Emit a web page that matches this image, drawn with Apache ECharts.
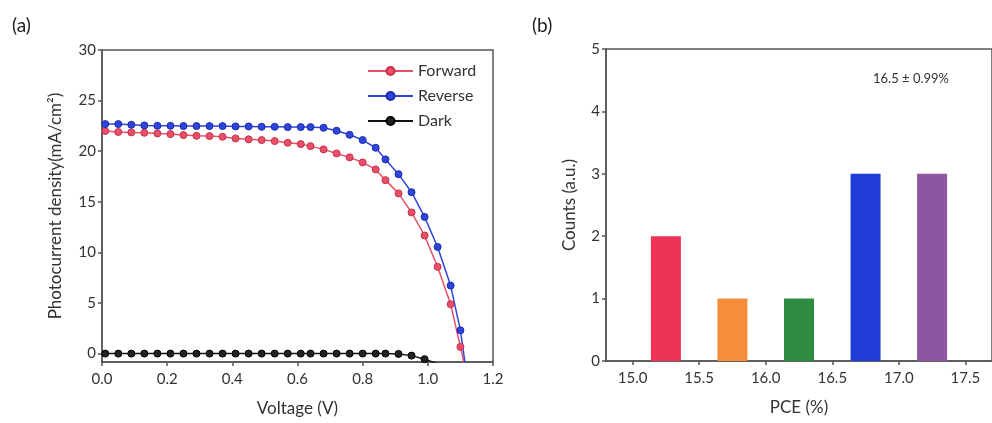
<!DOCTYPE html>
<html>
<head>
<meta charset="utf-8">
<script src="https://cdn.jsdelivr.net/npm/echarts@6/dist/echarts.min.js"></script>
<style>
  html, body { margin: 0; padding: 0; background: #fff; }
  #main { width: 992px; height: 423px; }
</style>
</head>
<body>
<div id="main"></div>
<script>
// (a) J-V curves
var voltage = [0.01, 0.05, 0.09, 0.13, 0.17, 0.21, 0.25, 0.29, 0.33, 0.37, 0.41, 0.45, 0.49, 0.53, 0.57,
  0.61, 0.64, 0.68, 0.72, 0.76, 0.80, 0.84, 0.87, 0.91, 0.95, 0.99, 1.03, 1.07, 1.10, 1.14]
var forward = [22.0, 21.9, 21.86, 21.82, 21.76, 21.69, 21.59, 21.52, 21.49, 21.42, 21.26, 21.17, 21.1, 21.0, 20.83,
  20.7, 20.5, 20.18, 19.78, 19.39, 18.89, 18.2, 17.14, 15.83, 13.95, 11.67, 8.57, 4.88, 0.66, -5.1]
var reverse = [22.68, 22.68, 22.61, 22.55, 22.51, 22.51, 22.48, 22.48, 22.48, 22.48, 22.45, 22.45, 22.41, 22.41, 22.38,
  22.38, 22.38, 22.32, 22.02, 21.62, 21.1, 20.34, 19.19, 17.73, 15.95, 13.51, 10.54, 6.72, 2.3, -6.8]
var dark = [0, 0, 0, 0, 0, 0, 0, 0, 0, 0, 0, 0, 0, 0, 0,
  0, 0, 0, 0, 0, 0, 0, 0, -0.03, -0.2, -0.55, -1.0]
var vTicks = [0, 0.2, 0.4, 0.6, 0.8, 1.0, 1.2]
var jTicks = [0, 5, 10, 15, 20, 25, 30]

// (b) PCE histogram
var pceBins = [15.25, 15.75, 16.25, 16.75, 17.25]
var counts = [2, 1, 1, 3, 3]
var barColors = ['#ee3356', '#f68d3a', '#2e8b3f', '#1f3bd8', '#8e55a0']
var pceTicks = [15.0, 15.5, 16.0, 16.5, 17.0, 17.5]

function pairs (xs, ys) {
  return ys.map(function (y, i) { return [xs[i], y] })
}

var axisLine = { show: true, onZero: false, lineStyle: { color: '#555', width: 1.5 } }
var axisTick = { show: true, length: 4, lineStyle: { color: '#555', width: 1.5 } }
var labelStyle = { color: '#333', fontSize: 15, fontFamily: 'Lato' }
var nameStyle = { color: '#333', fontSize: 17, fontFamily: 'Lato' }

var myChart = echarts.init(document.getElementById('main'))
myChart.setOption({
  animation: false,
  textStyle: { fontFamily: 'Lato' },
  grid: [
    { left: 102, right: 499, top: 50, bottom: 61, show: true, borderColor: '#555', borderWidth: 1.5 },
    { left: 606, right: -2, top: 49, bottom: 62, show: true, borderColor: '#555', borderWidth: 1.5 }
  ],
  graphic: [
    { type: 'text', left: 12, top: 16, style: { text: '(a)', fontSize: 19, fill: '#222', fontFamily: 'Lato' } },
    { type: 'text', left: 532, top: 16, style: { text: '(b)', fontSize: 19, fill: '#222', fontFamily: 'Lato' } },
    { type: 'text', left: 873, top: 72, style: { text: '16.5 ± 0.99%', fontSize: 13, fill: '#333', fontFamily: 'Lato' } }
  ],
  legend: {
    orient: 'vertical',
    left: 362,
    top: 58,
    itemWidth: 45,
    itemHeight: 10,
    itemGap: 9,
    textStyle: { color: '#333', fontSize: 16, fontFamily: 'Lato' },
    data: ['Forward', 'Reverse', 'Dark']
  },
  xAxis: [
    {
      gridIndex: 0,
      type: 'value',
      min: 0,
      max: 1.2,
      name: 'Voltage (V)',
      nameLocation: 'middle',
      nameGap: 38,
      nameTextStyle: nameStyle,
      axisLine: axisLine,
      axisTick: Object.assign({ customValues: vTicks }, axisTick),
      axisLabel: Object.assign({ customValues: vTicks, margin: 10, formatter: function (v) { return v.toFixed(1) } }, labelStyle),
      splitLine: { show: false }
    },
    {
      gridIndex: 1,
      type: 'value',
      min: 14.8,
      max: 17.7,
      name: 'PCE (%)',
      nameLocation: 'middle',
      nameGap: 38,
      nameTextStyle: nameStyle,
      axisLine: axisLine,
      axisTick: Object.assign({ customValues: pceTicks }, axisTick),
      axisLabel: Object.assign({ customValues: pceTicks, margin: 10, formatter: function (v) { return v.toFixed(1) } }, labelStyle),
      splitLine: { show: false }
    }
  ],
  yAxis: [
    {
      gridIndex: 0,
      type: 'value',
      min: -0.83,
      max: 30,
      name: 'Photocurrent density(mA/cm²)',
      nameLocation: 'middle',
      nameGap: 38,
      nameTextStyle: nameStyle,
      axisLine: axisLine,
      axisTick: Object.assign({ customValues: jTicks }, axisTick),
      axisLabel: Object.assign({ customValues: jTicks, margin: 6 }, labelStyle),
      splitLine: { show: false }
    },
    {
      gridIndex: 1,
      type: 'value',
      min: 0,
      max: 5,
      interval: 1,
      name: 'Counts (a.u.)',
      nameLocation: 'middle',
      nameGap: 28,
      nameTextStyle: nameStyle,
      axisLine: axisLine,
      axisTick: axisTick,
      axisLabel: Object.assign({ margin: 6 }, labelStyle),
      splitLine: { show: false }
    }
  ],
  series: [
    {
      name: 'Forward',
      type: 'line',
      xAxisIndex: 0,
      yAxisIndex: 0,
      symbol: 'circle',
      symbolSize: 7,
      showAllSymbol: true,
      lineStyle: { color: '#e8506a', width: 1.5 },
      itemStyle: { color: '#e8506a', borderColor: '#c8304a', borderWidth: 1 },
      data: pairs(voltage, forward)
    },
    {
      name: 'Reverse',
      type: 'line',
      xAxisIndex: 0,
      yAxisIndex: 0,
      symbol: 'circle',
      symbolSize: 7,
      showAllSymbol: true,
      lineStyle: { color: '#2f45dc', width: 1.5 },
      itemStyle: { color: '#2f45dc', borderColor: '#1a2aa8', borderWidth: 1 },
      data: pairs(voltage, reverse)
    },
    {
      name: 'Dark',
      type: 'line',
      xAxisIndex: 0,
      yAxisIndex: 0,
      symbol: 'circle',
      symbolSize: 7,
      showAllSymbol: true,
      lineStyle: { color: '#111', width: 1.5 },
      itemStyle: { color: '#222', borderColor: '#000', borderWidth: 1 },
      data: pairs(voltage, dark)
    },
    {
      name: 'PCE',
      type: 'bar',
      xAxisIndex: 1,
      yAxisIndex: 1,
      barWidth: 30,
      data: pceBins.map(function (x, i) {
        return { value: [x, counts[i]], itemStyle: { color: barColors[i] } }
      })
    }
  ]
}, true)
</script>
</body>
</html>
